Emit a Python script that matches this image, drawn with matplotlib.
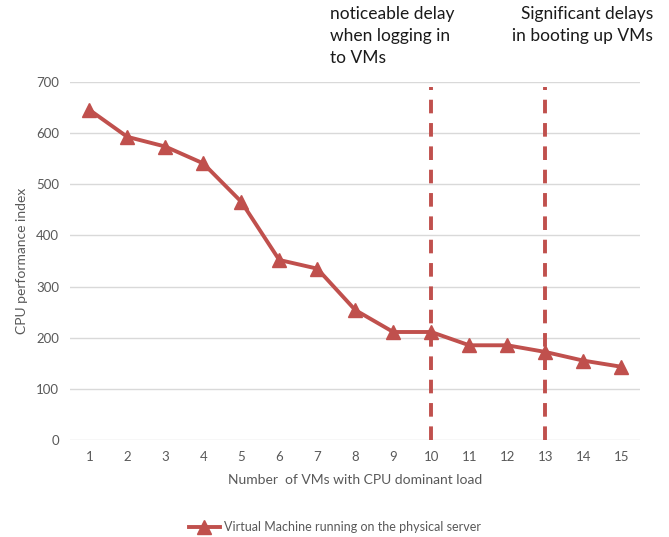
import numpy as np
import matplotlib.pyplot as plt

plt.rcParams["font.family"] = ["Lato", "DejaVu Sans"]

# data
vms = list(range(1, 16))
cpu_index = [646, 593, 574, 541, 466, 352, 335, 254, 211, 211, 185, 185, 172, 155, 143]
delay_marks = [10, 13]
delay_notes = ["noticeable delay\nwhen logging in\nto VMs",
               "Significant delays\nin booting up VMs"]

red = "#C0504D"
grey = "#595959"

fig = plt.figure(figsize=(6.69, 5.37), dpi=100)
ax = fig.add_axes([0.105, 0.181, 0.852, 0.666])

ax.plot(vms, cpu_index, color=red, lw=2.8, marker="^", ms=10,
        label="Virtual Machine running on the physical server", zorder=3)

for xm in delay_marks:
    ax.plot([xm, xm], [0, 690], color=red, lw=2.8, ls=(0, (3.5, 2.5)), zorder=2)

ax.set_xlim(0.5, 15.5)
ax.set_ylim(0, 700)
ax.set_xticks(vms)
ax.set_yticks(np.arange(0, 701, 100))
ax.yaxis.grid(True, color="#D9D9D9", lw=1)
ax.set_axisbelow(True)
for s in ax.spines.values():
    s.set_visible(False)
ax.tick_params(length=0, colors=grey, labelsize=9.5, pad=8)

ax.set_xlabel("Number  of VMs with CPU dominant load", color=grey, fontsize=10, labelpad=8)
ax.set_ylabel("CPU performance index", color=grey, fontsize=10, labelpad=6)

fig.text(330 / 669, 1 - 6 / 537, delay_notes[0], fontsize=12.5, va="top", ha="left",
         linespacing=1.45, color="#1a1a1a")
fig.text(653 / 669, 1 - 6 / 537, delay_notes[1], fontsize=12.5, va="top", ha="right",
         linespacing=1.45, color="#1a1a1a")

fig.legend(loc="center", bbox_to_anchor=(0.5, 1 - 527 / 537), frameon=False,
           fontsize=9, labelcolor=grey, handlelength=2.5, handletextpad=0.3)

fig.savefig("out.png", dpi=100, facecolor="white")
